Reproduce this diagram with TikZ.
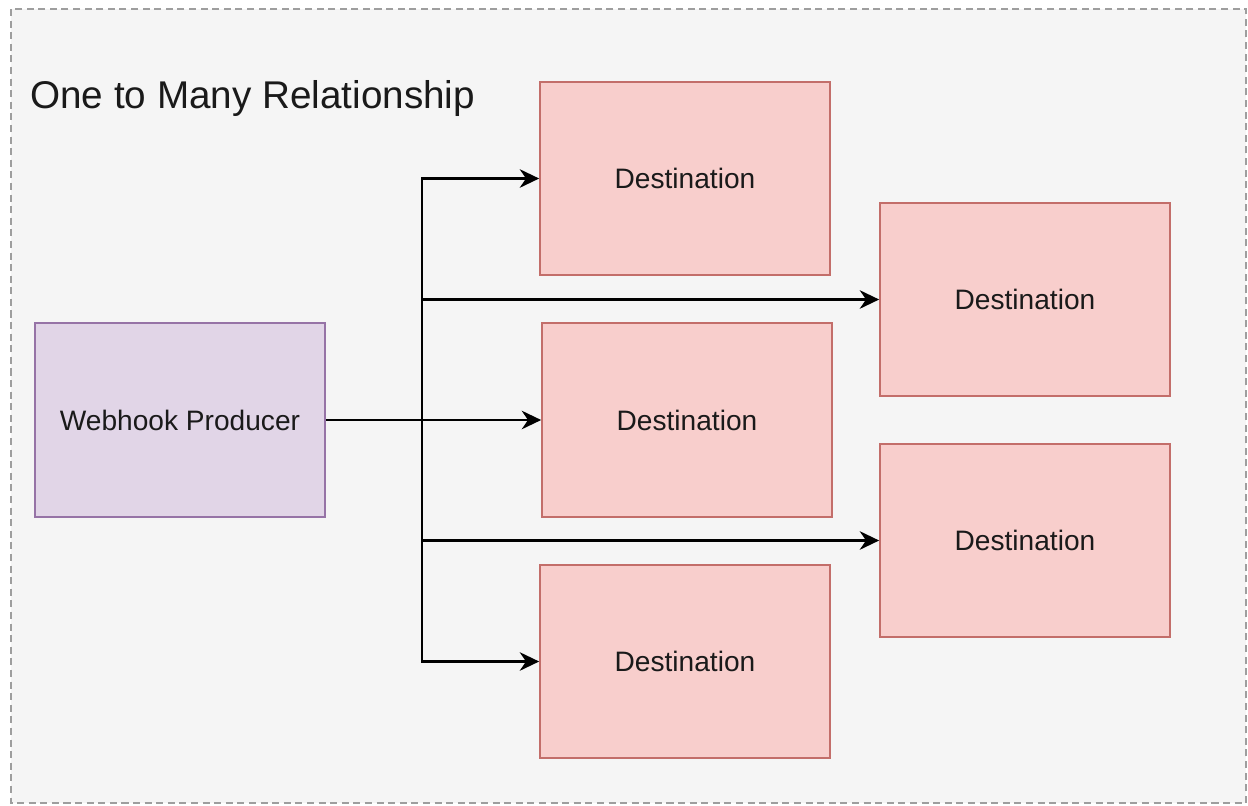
\documentclass[tikz,border=0pt]{standalone}
\usepackage{fontspec}
\setmainfont{Liberation Sans}
\usepackage{tikz}
\usetikzlibrary{arrows.meta, positioning, calc}
\definecolor{whBack}{HTML}{F5F5F5}
\definecolor{whFrame}{HTML}{9E9E9E}
\definecolor{whProd}{HTML}{E1D5E7}
\definecolor{whProdLine}{HTML}{9673A6}
\definecolor{whDest}{HTML}{F8CECC}
\definecolor{whDestLine}{HTML}{B85450}
\definecolor{whText}{HTML}{1A1A1A}
\tikzset{
  whnode/.style={
    draw, minimum width=5.8cm, minimum height=3.87cm, line width=1pt,
    font=\fontsize{16}{19}\selectfont, text=whText, align=center
  },
  producer/.style={whnode, fill=whProd, draw=whProdLine},
  dest/.style={whnode, fill=whDest, draw=whDestLine!85},
  frame/.style={draw=whFrame, fill=whBack, line width=1pt, dash pattern=on 4pt off 2.6pt},
  flow/.style={-{Stealth[length=11pt, width=10.5pt, inset=3.5pt]}, line width=1.5pt, black},
  netline/.style={line width=1.5pt, black},
  heading/.style={font=\fontsize{22}{26}\selectfont, text=whText, inner sep=0pt, anchor=west}
}
\begin{document}
\begin{tikzpicture}[x=0.02cm, y=-0.02cm]
  \useasboundingbox (0,0) rectangle (1248,805);
  \draw[frame] (11,9) rectangle (1246,803);
  \node[heading] (title) at (30,99) {One to Many Relationship};

  % producer and its destinations
  \node[producer] (prod) at (180,420) {Webhook Producer};
  \node[dest] (dest1) at (685,178.5) {Destination};
  \node[dest] (dest2) at (1025,299.5) {Destination};
  \node[dest] (dest3) at (687,420) {Destination};
  \node[dest] (dest4) at (1025,540.5) {Destination};
  \node[dest] (dest5) at (685,661.5) {Destination};

  % fan-out
  \coordinate (split) at (422,420);
  \draw[netline] (prod.east) -- (split);
  \foreach \d in {dest1, dest2, dest3, dest4, dest5}{
    \draw[flow] (split) |- (\d.west);
  }
\end{tikzpicture}
\end{document}
